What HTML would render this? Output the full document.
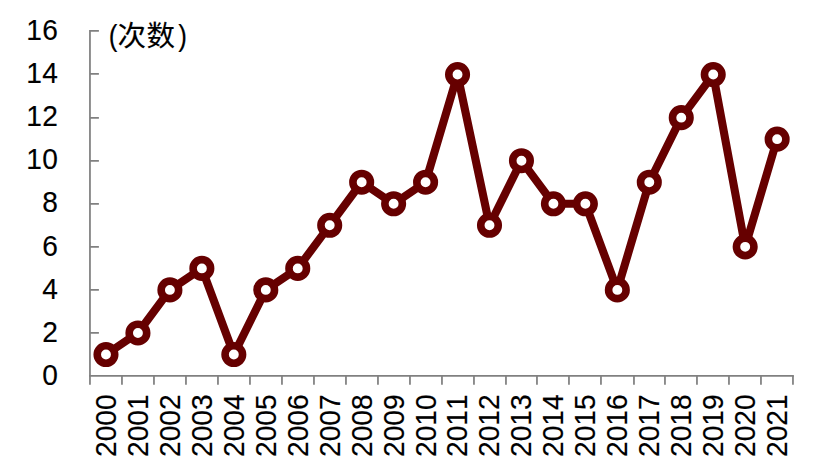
<!DOCTYPE html>
<html><head><meta charset="utf-8"><title>chart</title>
<style>
html,body{margin:0;padding:0;background:#fff;}
body{width:825px;height:474px;overflow:hidden;}
svg{display:block;}
text{font-family:"Liberation Sans","Noto Sans CJK SC",sans-serif;fill:#000;stroke:#000;stroke-width:0.15px;}
</style></head><body>
<svg width="825" height="474" viewBox="0 0 825 474">
<rect width="825" height="474" fill="#fff"/>
<g stroke="#808080" stroke-width="1.75" fill="none">
<path d="M89.96 30.07V384.85"/>
<path d="M89.12 375.95H793.88"/>
<path d="M90.0 332.95h8.9M90.0 289.95h8.9M90.0 246.95h8.9M90.0 203.95h8.9M90.0 160.95h8.9M90.0 117.95h8.9M90.0 73.95h8.9M90.0 30.95h8.9"/>
<path d="M121.96 375.95v8.9M153.96 375.95v8.9M185.96 375.95v8.9M217.96 375.95v8.9M249.96 375.95v8.9M281.96 375.95v8.9M313.96 375.95v8.9M345.96 375.95v8.9M377.96 375.95v8.9M409.96 375.95v8.9M441.96 375.95v8.9M473.96 375.95v8.9M505.96 375.95v8.9M536.96 375.95v8.9M568.96 375.95v8.9M600.96 375.95v8.9M633.96 375.95v8.9M664.96 375.95v8.9M696.96 375.95v8.9M728.96 375.95v8.9M760.96 375.95v8.9M792.96 375.95v8.9"/>
</g>
<g font-size="29.0" fill="#000">
<text transform="translate(42.36 385.05) scale(0.97 1.035)">0</text>
<text transform="translate(42.36 341.89) scale(0.97 1.035)">2</text>
<text transform="translate(42.36 298.73) scale(0.97 1.035)">4</text>
<text transform="translate(42.36 255.57) scale(0.97 1.035)">6</text>
<text transform="translate(42.36 212.41) scale(0.97 1.035)">8</text>
<text transform="translate(26.29 169.25) scale(0.97 1.035)">1</text><text transform="translate(42.36 169.25) scale(0.97 1.035)">0</text>
<text transform="translate(26.29 126.09) scale(0.97 1.035)">1</text><text transform="translate(42.36 126.09) scale(0.97 1.035)">2</text>
<text transform="translate(26.29 82.93) scale(0.97 1.035)">1</text><text transform="translate(42.36 82.93) scale(0.97 1.035)">4</text>
<text transform="translate(26.29 39.77) scale(0.97 1.035)">1</text><text transform="translate(42.36 39.77) scale(0.97 1.035)">6</text>
</g>
<g font-size="28.2" fill="#000">
<text transform="translate(115.93 457.00) rotate(-90) scale(1.0 1.035)">2</text><text transform="translate(115.93 441.32) rotate(-90) scale(1.0 1.035)">0</text><text transform="translate(115.93 425.63) rotate(-90) scale(1.0 1.035)">0</text><text transform="translate(115.93 409.95) rotate(-90) scale(1.0 1.035)">0</text>
<text transform="translate(147.89 457.00) rotate(-90) scale(1.0 1.035)">2</text><text transform="translate(147.89 441.32) rotate(-90) scale(1.0 1.035)">0</text><text transform="translate(147.89 425.63) rotate(-90) scale(1.0 1.035)">0</text><text transform="translate(147.89 409.95) rotate(-90) scale(1.0 1.035)">1</text>
<text transform="translate(179.85 457.00) rotate(-90) scale(1.0 1.035)">2</text><text transform="translate(179.85 441.32) rotate(-90) scale(1.0 1.035)">0</text><text transform="translate(179.85 425.63) rotate(-90) scale(1.0 1.035)">0</text><text transform="translate(179.85 409.95) rotate(-90) scale(1.0 1.035)">2</text>
<text transform="translate(211.81 457.00) rotate(-90) scale(1.0 1.035)">2</text><text transform="translate(211.81 441.32) rotate(-90) scale(1.0 1.035)">0</text><text transform="translate(211.81 425.63) rotate(-90) scale(1.0 1.035)">0</text><text transform="translate(211.81 409.95) rotate(-90) scale(1.0 1.035)">3</text>
<text transform="translate(243.77 457.00) rotate(-90) scale(1.0 1.035)">2</text><text transform="translate(243.77 441.32) rotate(-90) scale(1.0 1.035)">0</text><text transform="translate(243.77 425.63) rotate(-90) scale(1.0 1.035)">0</text><text transform="translate(243.77 409.95) rotate(-90) scale(1.0 1.035)">4</text>
<text transform="translate(275.73 457.00) rotate(-90) scale(1.0 1.035)">2</text><text transform="translate(275.73 441.32) rotate(-90) scale(1.0 1.035)">0</text><text transform="translate(275.73 425.63) rotate(-90) scale(1.0 1.035)">0</text><text transform="translate(275.73 409.95) rotate(-90) scale(1.0 1.035)">5</text>
<text transform="translate(307.69 457.00) rotate(-90) scale(1.0 1.035)">2</text><text transform="translate(307.69 441.32) rotate(-90) scale(1.0 1.035)">0</text><text transform="translate(307.69 425.63) rotate(-90) scale(1.0 1.035)">0</text><text transform="translate(307.69 409.95) rotate(-90) scale(1.0 1.035)">6</text>
<text transform="translate(339.65 457.00) rotate(-90) scale(1.0 1.035)">2</text><text transform="translate(339.65 441.32) rotate(-90) scale(1.0 1.035)">0</text><text transform="translate(339.65 425.63) rotate(-90) scale(1.0 1.035)">0</text><text transform="translate(339.65 409.95) rotate(-90) scale(1.0 1.035)">7</text>
<text transform="translate(371.61 457.00) rotate(-90) scale(1.0 1.035)">2</text><text transform="translate(371.61 441.32) rotate(-90) scale(1.0 1.035)">0</text><text transform="translate(371.61 425.63) rotate(-90) scale(1.0 1.035)">0</text><text transform="translate(371.61 409.95) rotate(-90) scale(1.0 1.035)">8</text>
<text transform="translate(403.57 457.00) rotate(-90) scale(1.0 1.035)">2</text><text transform="translate(403.57 441.32) rotate(-90) scale(1.0 1.035)">0</text><text transform="translate(403.57 425.63) rotate(-90) scale(1.0 1.035)">0</text><text transform="translate(403.57 409.95) rotate(-90) scale(1.0 1.035)">9</text>
<text transform="translate(435.53 457.00) rotate(-90) scale(1.0 1.035)">2</text><text transform="translate(435.53 441.32) rotate(-90) scale(1.0 1.035)">0</text><text transform="translate(435.53 425.63) rotate(-90) scale(1.0 1.035)">1</text><text transform="translate(435.53 409.95) rotate(-90) scale(1.0 1.035)">0</text>
<text transform="translate(467.49 457.00) rotate(-90) scale(1.0 1.035)">2</text><text transform="translate(467.49 441.32) rotate(-90) scale(1.0 1.035)">0</text><text transform="translate(467.49 425.63) rotate(-90) scale(1.0 1.035)">1</text><text transform="translate(467.49 409.95) rotate(-90) scale(1.0 1.035)">1</text>
<text transform="translate(499.45 457.00) rotate(-90) scale(1.0 1.035)">2</text><text transform="translate(499.45 441.32) rotate(-90) scale(1.0 1.035)">0</text><text transform="translate(499.45 425.63) rotate(-90) scale(1.0 1.035)">1</text><text transform="translate(499.45 409.95) rotate(-90) scale(1.0 1.035)">2</text>
<text transform="translate(531.41 457.00) rotate(-90) scale(1.0 1.035)">2</text><text transform="translate(531.41 441.32) rotate(-90) scale(1.0 1.035)">0</text><text transform="translate(531.41 425.63) rotate(-90) scale(1.0 1.035)">1</text><text transform="translate(531.41 409.95) rotate(-90) scale(1.0 1.035)">3</text>
<text transform="translate(563.37 457.00) rotate(-90) scale(1.0 1.035)">2</text><text transform="translate(563.37 441.32) rotate(-90) scale(1.0 1.035)">0</text><text transform="translate(563.37 425.63) rotate(-90) scale(1.0 1.035)">1</text><text transform="translate(563.37 409.95) rotate(-90) scale(1.0 1.035)">4</text>
<text transform="translate(595.33 457.00) rotate(-90) scale(1.0 1.035)">2</text><text transform="translate(595.33 441.32) rotate(-90) scale(1.0 1.035)">0</text><text transform="translate(595.33 425.63) rotate(-90) scale(1.0 1.035)">1</text><text transform="translate(595.33 409.95) rotate(-90) scale(1.0 1.035)">5</text>
<text transform="translate(627.29 457.00) rotate(-90) scale(1.0 1.035)">2</text><text transform="translate(627.29 441.32) rotate(-90) scale(1.0 1.035)">0</text><text transform="translate(627.29 425.63) rotate(-90) scale(1.0 1.035)">1</text><text transform="translate(627.29 409.95) rotate(-90) scale(1.0 1.035)">6</text>
<text transform="translate(659.25 457.00) rotate(-90) scale(1.0 1.035)">2</text><text transform="translate(659.25 441.32) rotate(-90) scale(1.0 1.035)">0</text><text transform="translate(659.25 425.63) rotate(-90) scale(1.0 1.035)">1</text><text transform="translate(659.25 409.95) rotate(-90) scale(1.0 1.035)">7</text>
<text transform="translate(691.21 457.00) rotate(-90) scale(1.0 1.035)">2</text><text transform="translate(691.21 441.32) rotate(-90) scale(1.0 1.035)">0</text><text transform="translate(691.21 425.63) rotate(-90) scale(1.0 1.035)">1</text><text transform="translate(691.21 409.95) rotate(-90) scale(1.0 1.035)">8</text>
<text transform="translate(723.17 457.00) rotate(-90) scale(1.0 1.035)">2</text><text transform="translate(723.17 441.32) rotate(-90) scale(1.0 1.035)">0</text><text transform="translate(723.17 425.63) rotate(-90) scale(1.0 1.035)">1</text><text transform="translate(723.17 409.95) rotate(-90) scale(1.0 1.035)">9</text>
<text transform="translate(755.13 457.00) rotate(-90) scale(1.0 1.035)">2</text><text transform="translate(755.13 441.32) rotate(-90) scale(1.0 1.035)">0</text><text transform="translate(755.13 425.63) rotate(-90) scale(1.0 1.035)">2</text><text transform="translate(755.13 409.95) rotate(-90) scale(1.0 1.035)">0</text>
<text transform="translate(787.09 457.00) rotate(-90) scale(1.0 1.035)">2</text><text transform="translate(787.09 441.32) rotate(-90) scale(1.0 1.035)">0</text><text transform="translate(787.09 425.63) rotate(-90) scale(1.0 1.035)">2</text><text transform="translate(787.09 409.95) rotate(-90) scale(1.0 1.035)">1</text>
</g>
<text transform="translate(108.7 45.7) scale(0.89 1.015)" font-size="29.3">(</text>
<text transform="translate(178.2 45.7) scale(0.89 1.015)" font-size="29.3">)</text>
<g fill="#000" font-size="28.5"><text x="117.5" y="45.8">次</text>
<text x="146.6" y="45.8">数</text></g>
<polyline points="105.98,354.51 137.94,332.98 169.90,289.91 201.86,268.38 233.82,354.51 265.78,289.91 297.74,268.38 329.70,225.31 361.66,182.24 393.62,203.77 425.58,182.24 457.54,74.56 489.50,225.31 521.46,160.70 553.42,203.77 585.38,203.77 617.34,289.91 649.30,182.24 681.26,117.63 713.22,74.56 745.18,246.84 777.14,139.17" fill="none" stroke="#660000" stroke-width="8.1" stroke-linejoin="round" stroke-linecap="round"/>
<g fill="#fff" stroke="#660000" stroke-width="7.6">
<circle cx="105.98" cy="354.51" r="8.75"/>
<circle cx="137.94" cy="332.98" r="8.75"/>
<circle cx="169.90" cy="289.91" r="8.75"/>
<circle cx="201.86" cy="268.38" r="8.75"/>
<circle cx="233.82" cy="354.51" r="8.75"/>
<circle cx="265.78" cy="289.91" r="8.75"/>
<circle cx="297.74" cy="268.38" r="8.75"/>
<circle cx="329.70" cy="225.31" r="8.75"/>
<circle cx="361.66" cy="182.24" r="8.75"/>
<circle cx="393.62" cy="203.77" r="8.75"/>
<circle cx="425.58" cy="182.24" r="8.75"/>
<circle cx="457.54" cy="74.56" r="8.75"/>
<circle cx="489.50" cy="225.31" r="8.75"/>
<circle cx="521.46" cy="160.70" r="8.75"/>
<circle cx="553.42" cy="203.77" r="8.75"/>
<circle cx="585.38" cy="203.77" r="8.75"/>
<circle cx="617.34" cy="289.91" r="8.75"/>
<circle cx="649.30" cy="182.24" r="8.75"/>
<circle cx="681.26" cy="117.63" r="8.75"/>
<circle cx="713.22" cy="74.56" r="8.75"/>
<circle cx="745.18" cy="246.84" r="8.75"/>
<circle cx="777.14" cy="139.17" r="8.75"/>
</g>
</svg>
</body></html>
